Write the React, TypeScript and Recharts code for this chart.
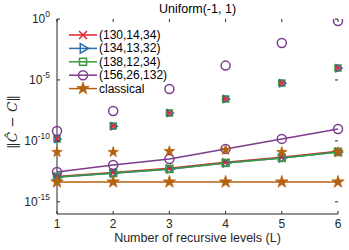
import React from "react";
import { ComposedChart, Line, XAxis, YAxis } from "recharts";

// ---- data ----
const levels = [1, 2, 3, 4, 5, 6];
const seriesNames = ["(130,14,34)", "(134,13,32)", "(138,12,34)", "(156,26,132)", "classical"];

// line series (error with lines)
const line130 = [1.2e-13, 2.6e-13, 5.6e-13, 1.8e-12, 4.6e-12, 1.4e-11];
const line134 = [1.05e-13, 2.2e-13, 4.8e-13, 1.5e-12, 3.9e-12, 1.2e-11];
const line138 = [1.1e-13, 2.3e-13, 5.0e-13, 1.55e-12, 4.0e-12, 1.23e-11];
const line156 = [2.8e-13, 1.05e-12, 3.3e-12, 2.2e-11, 1.45e-10, 9.5e-10];
const lineClassical = [4.3e-14, 4.3e-14, 4.3e-14, 4.3e-14, 4.3e-14, 4.3e-14];

// marker-only series
const pts130 = [1.45e-10, 1.66e-9, 1.95e-8, 2.75e-7, 5.6e-6, 9.5e-5];
const pts134 = [1.4e-10, 1.6e-9, 1.9e-8, 2.7e-7, 5.4e-6, 9.2e-5];
const pts138 = [1.45e-10, 1.66e-9, 1.95e-8, 2.75e-7, 5.6e-6, 9.5e-5];
const pts156 = [6.5e-10, 2.8e-8, 1.8e-6, 1.5e-4, 1.07e-2, 0.69];
const ptsClassical = [1.2e-11, 1.2e-11, 1.4e-11, 1.8e-11, 1.2e-11, 1.2e-11];

const yTicks = [1e-15, 1e-10, 1e-5, 1];
const xTicks = [1, 2, 3, 4, 5, 6];

const rows = levels.map((L, i) => ({
  L,
  l130: line130[i],
  l134: line134[i],
  l138: line138[i],
  l156: line156[i],
  lcl: lineClassical[i],
  p130: pts130[i],
  p134: pts134[i],
  p138: pts138[i],
  p156: pts156[i],
  pcl: ptsClassical[i],
}));

// ---- style ----
const W = 349;
const H = 250;
const PL = 57;
const PR = 338;
const PT = 19;
const PB = 214;
const AX = "#262626";
const FONT = "'Liberation Sans', Arial, Helvetica, sans-serif";
const RED = "#E0222B";
const BLUE = "#2D6DA8";
const GREEN = "#3A9A3C";
const PURPLE = "#7D3A8E";
const ORANGE = "#B5620F";

type MP = { cx: number; cy: number; color: string; s: number };

const Cross = ({ cx, cy, color, s }: MP) => (
  <g stroke={color} strokeWidth={1.5} fill="none">
    <line x1={cx - s} y1={cy - s} x2={cx + s} y2={cy + s} />
    <line x1={cx - s} y1={cy + s} x2={cx + s} y2={cy - s} />
  </g>
);
const TriRight = ({ cx, cy, color, s }: MP) => (
  <polygon
    points={`${cx + s},${cy} ${cx - s / 2},${cy - s * 0.866} ${cx - s / 2},${cy + s * 0.866}`}
    stroke={color}
    strokeWidth={1.5}
    fill="none"
  />
);
const Square = ({ cx, cy, color, s }: MP) => (
  <rect x={cx - s} y={cy - s} width={2 * s} height={2 * s} stroke={color} strokeWidth={1.5} fill="none" />
);
const Circle = ({ cx, cy, color, s }: MP) => (
  <circle cx={cx} cy={cy} r={s} stroke={color} strokeWidth={1.5} fill="none" />
);
const Star = ({ cx, cy, color, s }: MP) => {
  const pts: string[] = [];
  for (let k = 0; k < 10; k++) {
    const r = k % 2 === 0 ? s : s * 0.382;
    const a = -Math.PI / 2 + (k * Math.PI) / 5;
    pts.push(`${cx + r * Math.cos(a)},${cy + r * Math.sin(a)}`);
  }
  return <polygon points={pts.join(" ")} fill={color} stroke={color} strokeWidth={0.8} />;
};

const dotFn = (Shape: any, color: string, s: number) => (p: any) => {
  if (p.cx == null || p.cy == null) return <g key={`n${p.index}`} />;
  return <Shape key={`d${p.index}`} cx={p.cx} cy={p.cy} color={color} s={s} />;
};

const YTick = (props: any) => {
  const { y, payload } = props;
  const exp = Math.round(Math.log10(payload.value));
  return (
    <g>
      <text x={50} y={y + 4} textAnchor="end" fontSize={12} fill={AX} fontFamily={FONT}>
        10
        <tspan dy={-6} fontSize={8.5}>
          {exp}
        </tspan>
      </text>
      <line x1={PL} x2={PL + 3} y1={y} y2={y} stroke={AX} />
      <line x1={PR} x2={PR - 3} y1={y} y2={y} stroke={AX} />
    </g>
  );
};

const XTick = (props: any) => {
  const { x, payload } = props;
  return (
    <g>
      <text x={x} y={228} textAnchor="middle" fontSize={12} fill={AX} fontFamily={FONT}>
        {payload.value}
      </text>
      <line x1={x} x2={x} y1={PB} y2={PB - 3} stroke={AX} />
      <line x1={x} x2={x} y1={PT} y2={PT + 3} stroke={AX} />
    </g>
  );
};

const legendItems = [
  { name: seriesNames[0], color: RED, Shape: Cross, s: 4 },
  { name: seriesNames[1], color: BLUE, Shape: TriRight, s: 5.5 },
  { name: seriesNames[2], color: GREEN, Shape: Square, s: 3.5 },
  { name: seriesNames[3], color: PURPLE, Shape: Circle, s: 4.5 },
  { name: seriesNames[4], color: ORANGE, Shape: Star, s: 6.5 },
];

export default function App() {
  return (
    <div style={{ width: W, height: H, position: "absolute", left: 0, top: 0, background: "#fff" }}>
      <ComposedChart
        width={W}
        height={H}
        data={rows}
        margin={{ top: PT, right: W - PR, left: PL - 40, bottom: H - PB - 20 }}
      >
        <XAxis
          dataKey="L"
          type="number"
          domain={[1, 6]}
          ticks={xTicks}
          height={20}
          stroke={AX}
          tickLine={false}
          tick={<XTick />}
          interval={0}
        />
        <XAxis xAxisId="top" orientation="top" type="number" domain={[1, 6]} height={0} tick={false} tickLine={false} stroke={AX} />
        <YAxis
          scale="log"
          domain={[1e-16, 1]}
          allowDataOverflow
          ticks={yTicks}
          width={40}
          stroke={AX}
          tickLine={false}
          tick={<YTick />}
          interval={0}
        />
        <YAxis yAxisId="r" orientation="right" width={0} tick={false} tickLine={false} stroke={AX} />

        <Line dataKey="l130" stroke={RED} strokeWidth={1.5} isAnimationActive={false} dot={dotFn(Cross, RED, 3.5)} />
        <Line dataKey="l134" stroke={BLUE} strokeWidth={1.5} isAnimationActive={false} dot={dotFn(TriRight, BLUE, 4.5)} />
        <Line dataKey="l138" stroke={GREEN} strokeWidth={1.5} isAnimationActive={false} dot={dotFn(Square, GREEN, 3.5)} />
        <Line dataKey="l156" stroke={PURPLE} strokeWidth={1.5} isAnimationActive={false} dot={dotFn(Circle, PURPLE, 4.5)} />
        <Line dataKey="lcl" stroke={ORANGE} strokeWidth={1.5} isAnimationActive={false} dot={dotFn(Star, ORANGE, 6.5)} />

        <Line dataKey="p138" stroke="none" isAnimationActive={false} dot={dotFn(Square, GREEN, 3)} />
        <Line dataKey="p134" stroke="none" isAnimationActive={false} dot={dotFn(TriRight, BLUE, 4)} />
        <Line dataKey="p130" stroke="none" isAnimationActive={false} dot={dotFn(Cross, RED, 2.5)} />
        <Line dataKey="p156" stroke="none" isAnimationActive={false} dot={dotFn(Circle, PURPLE, 4.5)} />
        <Line dataKey="pcl" stroke="none" isAnimationActive={false} dot={dotFn(Star, ORANGE, 5.5)} />
      </ComposedChart>

      <svg width={W} height={H} style={{ position: "absolute", left: 0, top: 0, pointerEvents: "none" }}>
        <text x={(PL + PR) / 2} y={13} textAnchor="middle" fontSize={12.5} fill="#000" fontFamily={FONT}>
          Uniform(-1, 1)
        </text>
        <text x={(PL + PR) / 2} y={242} textAnchor="middle" fontSize={12.5} fill={AX} fontFamily={FONT}>
          Number of recursive levels (L)
        </text>
        <text
          transform="translate(17,122) rotate(-90)"
          textAnchor="middle"
          fontSize={13.5}
          fill={AX}
          fontFamily="'DejaVu Serif', serif"
        >
          ‖<tspan fontStyle="italic">C&#770;</tspan> − <tspan fontStyle="italic">C</tspan>‖
        </text>
        {legendItems.map((it, i) => {
          const y = 35 + i * 13.4;
          const Shape = it.Shape;
          return (
            <g key={it.name}>
              <line x1={69} x2={97} y1={y} y2={y} stroke={it.color} strokeWidth={1.5} />
              <Shape cx={83} cy={y} color={it.color} s={it.s} />
              <text x={99} y={y + 4} fontSize={12} fill="#000" fontFamily={FONT}>
                {it.name}
              </text>
            </g>
          );
        })}
      </svg>
    </div>
  );
}
